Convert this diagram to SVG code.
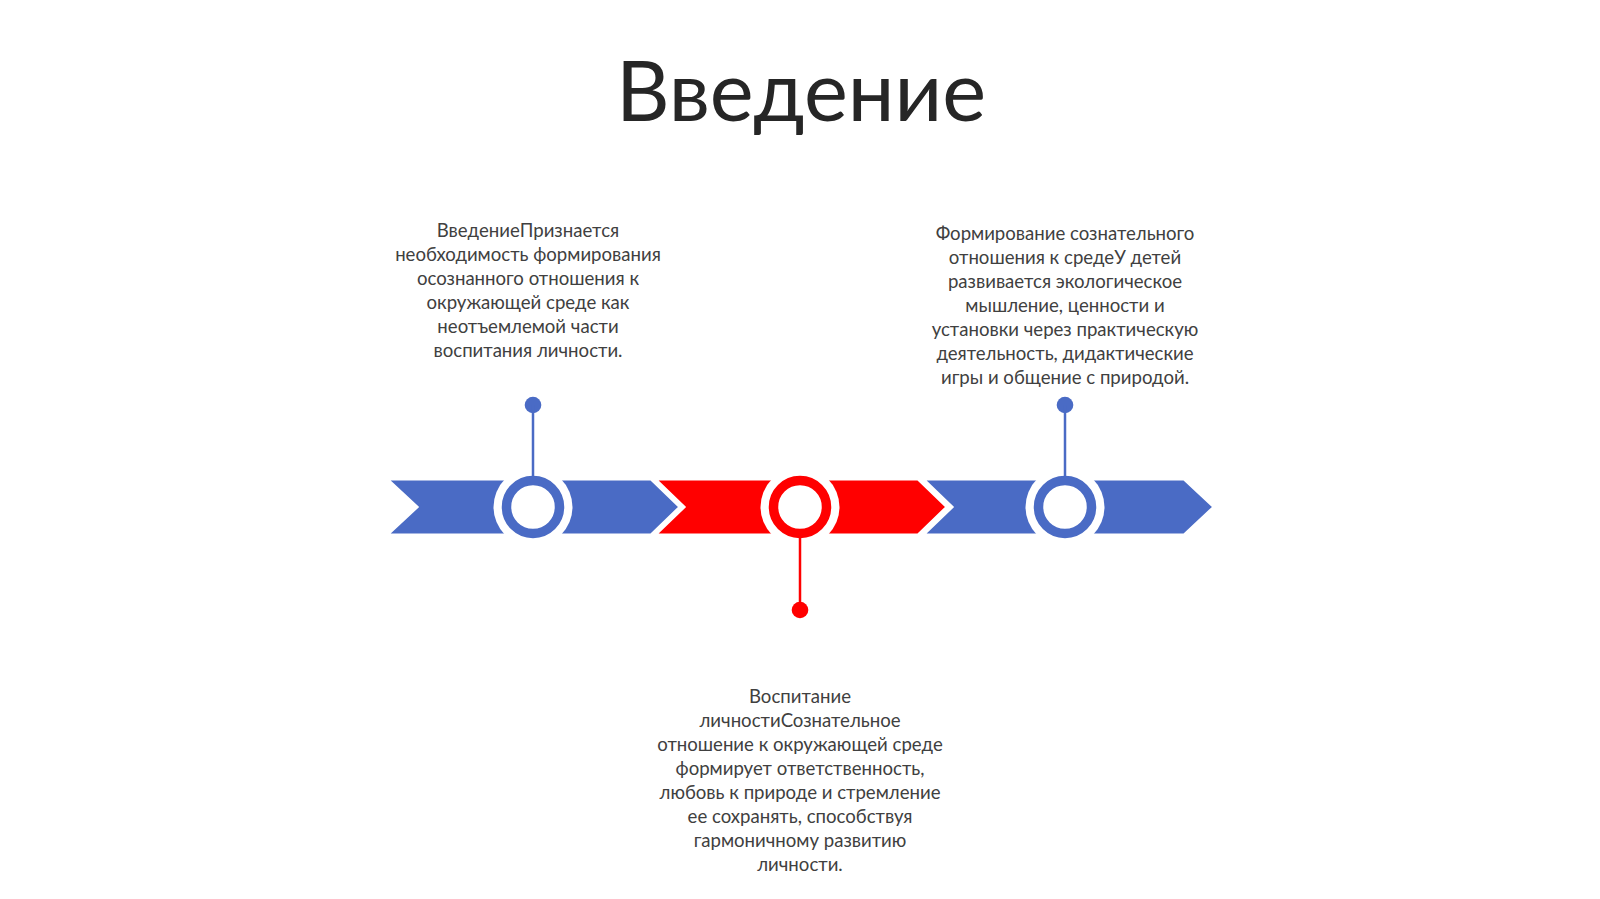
<svg xmlns="http://www.w3.org/2000/svg" width="1600" height="899" viewBox="0 0 1600 899">
<style>
.title{font-family:Lato,"Liberation Sans",sans-serif;font-size:83px;fill:#262626;text-anchor:middle}
.txt{font-family:Lato,"Liberation Sans",sans-serif;font-size:18.6px;fill:#404040;text-anchor:middle}
.blue{fill:#4A6BC5;stroke:#fff;stroke-width:3;stroke-linejoin:miter}
.red{fill:#FF0000;stroke:#fff;stroke-width:3;stroke-linejoin:miter}
.halo{fill:#fff}
.ringB{fill:#fff;stroke:#4A6BC5;stroke-width:9.5}
.ringR{fill:#fff;stroke:#FF0000;stroke-width:9.5}
.lineB{stroke:#4A6BC5;stroke-width:2.5}
.lineR{stroke:#FF0000;stroke-width:2.5}
</style>
<rect width="1600" height="899" fill="#fff"/>
<g id="title"><text class="title" x="801" y="121">Введение</text></g>
<g id="band">
<polygon id="chev1" class="blue" points="387,479 651,479 680,507 651,535 387,535 417,507"/>
<polygon id="chev3" class="blue" points="923,479 1184,479 1214,507 1184,535 923,535 952,507"/>
<polygon id="chev2" class="red" points="655,479 918,479 947,507 918,535 655,535 684,507"/>
</g>
<g id="node1">
<circle class="halo" cx="533" cy="507" r="39.5"/>
<circle class="ringB" cx="533" cy="507" r="26.5"/>
<circle cx="533" cy="405" r="8.3" fill="#4A6BC5"/>
<text class="txt" x="528" y="237">ВведениеПризнается</text>
<text class="txt" x="528" y="261">необходимость формирования</text>
<text class="txt" x="528" y="285">осознанного отношения к</text>
<text class="txt" x="528" y="309">окружающей среде как</text>
<text class="txt" x="528" y="333">неотъемлемой части</text>
<text class="txt" x="528" y="357">воспитания личности.</text>
</g>
<g id="node2">
<circle class="halo" cx="800" cy="507" r="39.5"/>
<circle class="ringR" cx="800" cy="507" r="26.5"/>
<circle cx="800" cy="610" r="8.3" fill="#FF0000"/>
<text class="txt" x="800" y="703">Воспитание</text>
<text class="txt" x="800" y="727">личностиСознательное</text>
<text class="txt" x="800" y="751">отношение к окружающей среде</text>
<text class="txt" x="800" y="775">формирует ответственность,</text>
<text class="txt" x="800" y="799">любовь к природе и стремление</text>
<text class="txt" x="800" y="823">ее сохранять, способствуя</text>
<text class="txt" x="800" y="847">гармоничному развитию</text>
<text class="txt" x="800" y="871">личности.</text>
</g>
<g id="node3">
<circle class="halo" cx="1065" cy="507" r="39.5"/>
<circle class="ringB" cx="1065" cy="507" r="26.5"/>
<circle cx="1065" cy="405" r="8.3" fill="#4A6BC5"/>
<text class="txt" x="1065" y="240">Формирование сознательного</text>
<text class="txt" x="1065" y="264">отношения к средеУ детей</text>
<text class="txt" x="1065" y="288">развивается экологическое</text>
<text class="txt" x="1065" y="312">мышление, ценности и</text>
<text class="txt" x="1065" y="336">установки через практическую</text>
<text class="txt" x="1065" y="360">деятельность, дидактические</text>
<text class="txt" x="1065" y="384">игры и общение с природой.</text>
</g>
<g id="connectors">
<line class="lineB" x1="533" y1="405" x2="533" y2="477"/>
<line class="lineB" x1="1065" y1="405" x2="1065" y2="477"/>
<line class="lineR" x1="800" y1="537" x2="800" y2="610"/>
</g>
</svg>
